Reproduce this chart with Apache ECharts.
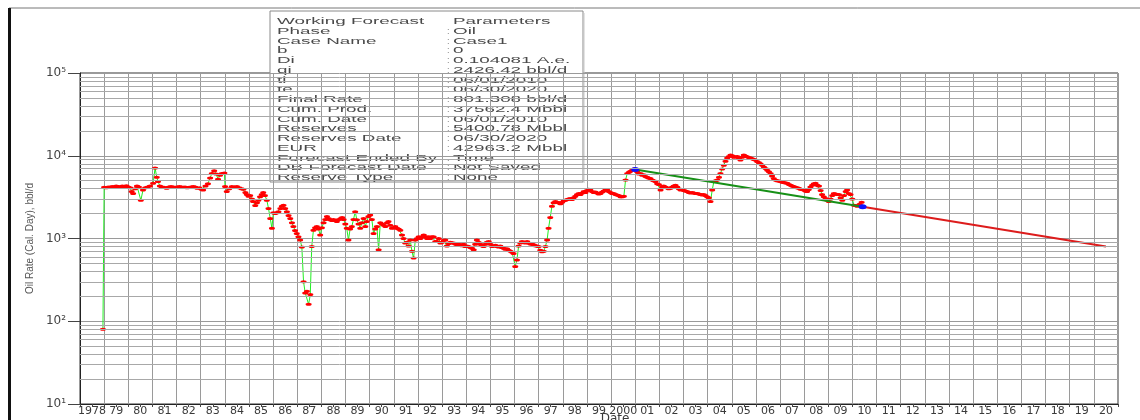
<!DOCTYPE html>
<html>
<head>
<meta charset="utf-8">
<title>Oil Rate Forecast</title>
<script src="https://cdn.jsdelivr.net/npm/echarts@6/dist/echarts.min.js"></script>
<style>
  html, body { margin: 0; padding: 0; background: #ffffff; }
  #chart { width: 1140px; height: 420px; }
</style>
</head>
<body>
<div id="chart"></div>
<script>
// Year labels shown under each year band
const yearLabels = ['1978','79','80','81','82','83','84','85','86','87','88','89','90','91','92','93','94','95','96','97','98','99',
  '2000','01','02','03','04','05','06','07','08','09','10','11','12','13','14','15','16','17','18','19','20'];

// Monthly oil rate history (decimal year, bbl/d)
const prodYear = [
  1978.95,1979.00,1979.08,1979.17,1979.25,1979.33,1979.42,1979.50,1979.58,1979.67,1979.75,1979.83,1979.92,
  1980.00,1980.08,1980.14,1980.20,1980.28,1980.36,1980.44,1980.52,1980.61,1980.70,1980.80,1980.90,
  1981.03,1981.11,1981.18,1981.23,1981.31,1981.39,1981.48,1981.59,1981.68,1981.77,1981.86,1981.94,
  1982.03,1982.12,1982.20,1982.28,1982.35,1982.44,1982.52,1982.61,1982.69,1982.77,1982.86,1982.94,
  1983.03,1983.10,1983.20,1983.30,1983.39,1983.46,1983.56,1983.64,1983.72,1983.80,1983.87,1983.98,
  1984.01,1984.08,1984.18,1984.29,1984.40,1984.50,1984.60,1984.69,1984.77,1984.85,1984.91,1984.98,
  1985.05,1985.12,1985.17,1985.26,1985.33,1985.39,1985.46,1985.53,1985.59,1985.66,1985.74,1985.81,1985.88,1985.95,
  1986.01,1986.08,1986.15,1986.22,1986.30,1986.36,1986.43,1986.50,1986.57,1986.64,1986.71,1986.78,1986.84,1986.91,1986.98,
  1987.05,1987.12,1987.19,1987.26,1987.33,1987.40,1987.47,1987.54,1987.60,1987.67,1987.74,1987.81,1987.88,1987.95,
  1988.02,1988.09,1988.16,1988.23,1988.30,1988.36,1988.44,1988.50,1988.57,1988.64,1988.72,1988.80,1988.86,1988.92,1988.99,
  1989.05,1989.12,1989.19,1989.26,1989.33,1989.40,1989.47,1989.54,1989.61,1989.68,1989.75,1989.82,1989.88,1989.95,
  1990.02,1990.09,1990.16,1990.23,1990.30,1990.37,1990.44,1990.51,1990.58,1990.65,1990.72,1990.78,1990.85,1990.92,
  1991.00,1991.06,1991.13,1991.20,1991.27,1991.34,1991.40,1991.47,1991.54,1991.61,1991.68,1991.75,1991.82,1991.89,1991.96,
  1992.03,1992.10,1992.17,1992.24,1992.31,1992.38,1992.44,1992.51,1992.58,1992.65,1992.72,1992.79,1992.86,1992.93,
  1993.00,1993.07,1993.13,1993.20,1993.27,1993.34,1993.41,1993.48,1993.55,1993.62,1993.68,1993.75,1993.82,1993.89,1993.96,
  1994.03,1994.10,1994.17,1994.24,1994.31,1994.37,1994.44,1994.51,1994.58,1994.65,1994.72,1994.79,1994.86,1994.93,
  1995.00,1995.07,1995.14,1995.21,1995.28,1995.34,1995.41,1995.48,1995.55,1995.62,1995.69,1995.76,1995.83,1995.90,1995.96,
  1996.03,1996.10,1996.17,1996.24,1996.31,1996.38,1996.45,1996.52,1996.59,1996.66,1996.73,1996.80,1996.86,1996.93,
  1997.00,1997.07,1997.14,1997.21,1997.28,1997.35,1997.41,1997.48,1997.55,1997.62,1997.69,1997.76,1997.83,1997.90,1997.97,
  1998.04,1998.11,1998.18,1998.24,1998.31,1998.38,1998.45,1998.52,1998.59,1998.66,1998.73,1998.80,1998.87,1998.94,
  1999.00,1999.07,1999.14,1999.21,1999.28,1999.35,1999.42,1999.49,1999.56,1999.63,1999.70,1999.77,1999.84,1999.91,1999.98,
  2000.04,2000.11,2000.18,2000.25,2000.32,2000.39,2000.46,2000.53,2000.60,2000.67,2000.74,2000.80,2000.87,2000.94,
  2001.01,2001.08,2001.15,2001.22,2001.29,2001.35,2001.42,2001.49,2001.56,2001.63,2001.70,2001.77,2001.84,2001.91,2001.98,
  2002.05,2002.12,2002.18,2002.25,2002.32,2002.39,2002.46,2002.53,2002.60,2002.67,2002.74,2002.81,2002.88,2002.95,
  2003.02,2003.08,2003.15,2003.22,2003.29,2003.36,2003.43,2003.50,2003.57,2003.64,2003.71,2003.78,2003.84,2003.91,2003.98,
  2004.05,2004.12,2004.19,2004.26,2004.33,2004.40,2004.47,2004.53,2004.60,2004.67,2004.74,2004.81,2004.88,2004.95,
  2005.02,2005.09,2005.16,2005.23,2005.30,2005.36,2005.43,2005.50,2005.57,2005.64,2005.71,2005.78,2005.85,2005.92,2005.98,
  2006.05,2006.12,2006.19,2006.26,2006.33,2006.40,2006.47,2006.54,2006.61,2006.67,2006.74,2006.81,2006.88,2006.95,
  2007.02,2007.09,2007.16,2007.23,2007.30,2007.37,2007.44,2007.50,2007.57,2007.64,2007.71,2007.78,2007.85,2007.92,2007.99,
  2008.05,2008.12,2008.19,2008.26,2008.33,2008.40,2008.47,2008.54,2008.61,2008.68,2008.74,2008.81,2008.89,2008.95,
  2009.02,2009.09,2009.16,2009.23,2009.30,2009.37,2009.44,2009.51,2009.58,2009.65,2009.72,2009.78,2009.85,2009.92,2009.99,
  2010.06,2010.13,2010.20,2010.30,2010.38
];
const prodRate = [
  80,4150,4100,4200,4150,4250,4200,4300,4250,4200,4300,4250,4350,
  4200,4100,3700,3500,4000,4300,4200,2900,3850,4100,4200,4300,
  4650,7100,5500,4900,4300,4200,4150,4050,4200,4250,4200,4150,
  4200,4250,4200,4150,4200,4100,4150,4200,4250,4200,4050,4100,
  3950,3850,4300,4600,5400,6100,6600,6000,5200,5800,6100,6200,
  4250,3700,4000,4250,4200,4250,4100,4000,3950,3600,3400,3250,
  3300,3000,2800,2500,2700,2900,3200,3400,3600,3300,2900,2300,1750,1330,
  2050,2000,2050,2100,2300,2450,2530,2300,2100,1900,1750,1550,1400,1250,1150,
  1050,960,790,300,220,230,160,210,800,1260,1350,1400,1300,1100,
  1350,1550,1700,1850,1750,1680,1650,1700,1650,1600,1700,1750,1800,1700,1500,
  1330,960,1300,1400,1700,2100,1680,1500,1330,1550,1750,1400,1600,1850,
  1920,1700,1150,1300,1400,730,1550,1500,1450,1400,1550,1600,1450,1330,
  1350,1400,1330,1300,1260,1100,1000,880,900,810,960,700,580,960,1000,
  1050,1000,1050,1100,1050,1000,1050,1000,1050,1050,920,920,1000,880,
  900,950,960,810,870,900,880,880,860,840,850,840,820,850,800,
  810,800,780,760,730,850,960,900,850,820,800,850,900,920,
  850,800,810,830,800,790,810,780,760,740,750,720,700,680,660,
  460,550,810,880,920,900,880,920,880,860,850,840,820,810,
  800,720,690,700,800,960,1330,1800,2450,2700,2800,2750,2700,2630,2750,
  2850,2900,2950,3000,3050,2950,3100,3250,3400,3500,3400,3550,3700,3600,
  3800,3950,3850,3700,3600,3650,3550,3450,3500,3650,3750,3850,3850,3700,3600,
  3500,3500,3400,3350,3300,3200,3200,3250,5100,6100,6300,6500,6700,6900,
  6800,6400,6000,6100,5800,5900,5600,5500,5400,5300,5100,5000,4900,4600,4500,
  3850,4200,4300,4200,4100,4000,4050,4200,4300,4400,4200,4000,3850,3900,
  3800,3750,3700,3600,3550,3600,3550,3500,3500,3450,3400,3350,3400,3300,3200,
  3100,2800,3850,4900,5000,5100,5500,6100,6900,7700,8600,9400,9800,10200,
  10000,9600,9700,9800,9300,8900,9600,10200,9900,9700,9500,9400,9200,9000,8900,
  8500,8300,8000,7700,7300,7000,6700,6400,6100,5700,5300,5100,5000,4950,
  4900,4800,4750,4700,4650,4500,4400,4300,4250,4150,4100,4050,3950,3900,3850,
  3750,3700,3900,4200,4400,4600,4650,4400,4300,3800,3400,3200,3050,2900,
  2800,3000,3300,3500,3450,3400,3400,3100,2900,3300,3700,3850,3500,3400,3000,
  2530,2500,2450,2600,2750
];

// Exponential decline fit over the history (start / end of the fitted interval)
const fitYear = [2001.0, 2010.42];
const fitRate = [6830, 2426.42];

// Forecast: qi at 06/01/2010, final rate at 06/30/2020
const fcstYear = [2010.42, 2020.5];
const fcstRate = [2426.42, 801.308];

// Forecast parameter table
const paramNames = ['Working Forecast','Phase','Case Name','b','Di','qi','ti','te','Final Rate','Cum. Prod.',
  'Cum. Date','Reserves','Reserves Date','EUR','Forecast Ended By','DB Forecast Date','Reserve Type'];
const paramValues = ['Parameters','Oil','Case1','0','0.104081 A.e.','2426.42 bbl/d','06/01/2010','06/30/2020','801.308 bbl/d',
  '37562.4 Mbbl','06/01/2010','5400.78 Mbbl','06/30/2020','42963.2 Mbbl','Time','Not Saved','None'];

// Minor log grid values (2..9 in every decade)
const minorGrid = [20,30,40,50,60,70,80,90,200,300,400,500,600,700,800,900,
  2000,3000,4000,5000,6000,7000,8000,9000,20000,30000,40000,50000,60000,70000,80000,90000];

const sup = ['\u2070','\u00B9','\u00B2','\u00B3','\u2074','\u2075'];

const zip = (xs, ys) => xs.map((x, i) => [x, ys[i]]);

// Parameter box texts
const boxLeft = 270, boxTop = 11, boxW = 313, boxH = 171;
const rowStep = 9.75, firstRow = 21.5;
const textStretch = 2.05;
const boxChildren = [
  { type: 'rect', shape: { x: boxLeft, y: boxTop, width: boxW, height: boxH },
    style: { fill: '#ffffff', stroke: '#8a8a8a', lineWidth: 1 } },
  { type: 'line', shape: { x1: boxLeft + boxW + 1, y1: boxTop + 2, x2: boxLeft + boxW + 1, y2: boxTop + boxH + 1 },
    style: { stroke: '#c8c8c8', lineWidth: 1 } }
];
paramNames.forEach((name, i) => {
  const y = firstRow + rowStep * i;
  const txtStyle = { fill: '#4a4a4a', font: '9.2px "Liberation Sans", Arial, sans-serif', textVerticalAlign: 'middle' };
  boxChildren.push({ type: 'text', x: 277, y: y, scaleX: textStretch,
    style: Object.assign({ text: name }, txtStyle) });
  if (i > 0) {
    boxChildren.push({ type: 'text', x: 447, y: y, scaleX: 1,
      style: Object.assign({ text: ':' }, txtStyle, { fill: '#888' }) });
  }
  boxChildren.push({ type: 'text', x: 453, y: y, scaleX: textStretch,
    style: Object.assign({ text: paramValues[i] }, txtStyle) });
});

const chart = echarts.init(document.getElementById('chart'), null, { renderer: 'canvas' });

const option = {
  animation: false,
  backgroundColor: '#ffffff',
  grid: { left: 80, right: 22, top: 73, bottom: 16, show: true, borderColor: '#333', borderWidth: 1,
    containLabel: false, outerBoundsMode: 'none' },
  xAxis: [
    {
      type: 'value', min: 1978, max: 2021, interval: 1,
      position: 'bottom',
      axisLine: { show: true, lineStyle: { color: '#222', width: 1 } },
      axisTick: { show: true, length: 3, lineStyle: { color: '#444' } },
      minorTick: { show: true, splitNumber: 2, length: 3, lineStyle: { color: '#444' } },
      axisLabel: { show: false },
      splitLine: { show: true, lineStyle: { color: '#9a9a9a', width: 1 } }
    },
    {
      type: 'category', data: yearLabels, boundaryGap: true,
      position: 'bottom',
      axisLine: { show: false }, axisTick: { show: false },
      splitLine: { show: false },
      axisLabel: { interval: 0, margin: 2, color: '#3a3a3a', fontSize: 11, fontFamily: '"DejaVu Sans", sans-serif' }
    }
  ],
  yAxis: {
    type: 'log', logBase: 10, min: 10, max: 100000,
    axisLine: { show: true, lineStyle: { color: '#222', width: 1 } },
    axisTick: { show: true, length: 12, lineStyle: { color: '#444' } },
    axisLabel: {
      margin: 14, color: '#444', fontSize: 12, fontFamily: '"DejaVu Sans", sans-serif',
      formatter: v => '10' + sup[Math.round(Math.log10(v))]
    },
    splitLine: { show: true, lineStyle: { color: '#9a9a9a', width: 1 } },
    name: 'Oil Rate (Cal. Day), bbl/d', nameLocation: 'middle', nameGap: 44, nameRotate: 90,
    nameTextStyle: { color: '#555', fontSize: 10, fontFamily: '"Liberation Sans", Arial, sans-serif' }
  },
  series: [
    {
      name: 'minor grid', type: 'line', data: [], z: 1, silent: true,
      markLine: {
        silent: true, symbol: ['none', 'none'], label: { show: false }, animation: false,
        lineStyle: { color: '#a8a8a8', type: 'solid', width: 1 },
        data: minorGrid.map(v => ({ yAxis: v }))
      }
    },
    {
      name: 'Oil Rate', type: 'line', xAxisIndex: 0, z: 3,
      data: zip(prodYear, prodRate),
      showSymbol: true, showAllSymbol: true, symbol: 'circle', symbolSize: [6, 3],
      itemStyle: { color: '#ff0000', borderWidth: 0 },
      lineStyle: { color: '#22ee22', width: 1 }
    },
    {
      name: 'Fit', type: 'line', xAxisIndex: 0, z: 4,
      data: zip(fitYear, fitRate),
      symbol: 'circle', symbolSize: [8, 5], showSymbol: true,
      itemStyle: { color: '#1010ff' },
      lineStyle: { color: '#179017', width: 2 }
    },
    {
      name: 'Forecast', type: 'line', xAxisIndex: 0, z: 4,
      data: zip(fcstYear, fcstRate),
      showSymbol: false,
      lineStyle: { color: '#dd1c1c', width: 2 }
    }
  ],
  graphic: [
    // outer frame
    { type: 'line', z: 50, shape: { x1: 9, y1: 8, x2: 1140, y2: 8 }, style: { stroke: '#777', lineWidth: 1 } },
    { type: 'line', z: 50, shape: { x1: 9.5, y1: 8, x2: 9.5, y2: 420 }, style: { stroke: '#111', lineWidth: 3 } },
    // x axis title, sitting just under the year labels
    { type: 'text', z: 50, x: 615, y: 413,
      style: { text: 'Date', fill: '#3a3a3a', font: '12px "DejaVu Sans", sans-serif', textAlign: 'center', textVerticalAlign: 'top' } },
    { type: 'group', z: 60, children: boxChildren }
  ]
};

chart.setOption(option);
</script>
</body>
</html>
